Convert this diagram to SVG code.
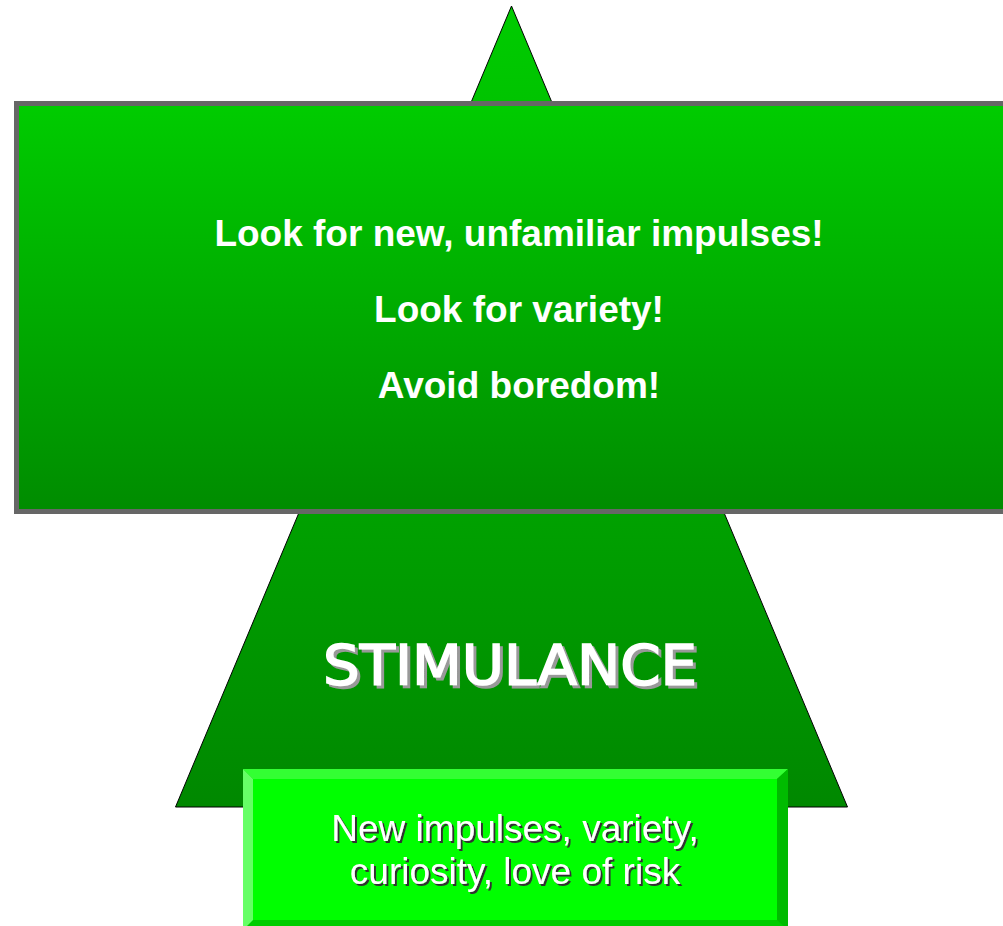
<svg xmlns="http://www.w3.org/2000/svg" width="1003" height="926" viewBox="0 0 1003 926">
<style>
.hd{font-family:"Liberation Sans",Arial,sans-serif;font-weight:bold;font-size:37px;fill:#fff;text-anchor:middle}
.big{font-family:"DejaVu Sans",Verdana,sans-serif;font-size:55px;fill:#fff;stroke:#fff;stroke-width:1.6;text-anchor:middle}
.sm{font-family:"Liberation Sans",Arial,sans-serif;font-size:37px;fill:#fff;text-anchor:middle}
</style>
<defs>
<linearGradient id="tri" x1="0" y1="6" x2="0" y2="807" gradientUnits="userSpaceOnUse">
<stop offset="0" stop-color="#00CC00"/><stop offset="1" stop-color="#008800"/>
</linearGradient>
<linearGradient id="rect" x1="0" y1="0" x2="0" y2="1">
<stop offset="0" stop-color="#00CC00"/><stop offset="1" stop-color="#008C00"/>
</linearGradient>
<filter id="shGray" x="-5%" y="-20%" width="110%" height="140%">
<feOffset in="SourceAlpha" dx="3" dy="3" result="o"/>
<feFlood flood-color="#999"/>
<feComposite in2="o" operator="in" result="s"/>
<feMerge><feMergeNode in="s"/><feMergeNode in="SourceGraphic"/></feMerge>
</filter>
<filter id="shDark" x="-5%" y="-20%" width="110%" height="140%">
<feOffset in="SourceAlpha" dx="2" dy="2" result="o"/>
<feFlood flood-color="#333"/>
<feComposite in2="o" operator="in" result="s"/>
<feMerge><feMergeNode in="s"/><feMergeNode in="SourceGraphic"/></feMerge>
</filter>
</defs>
<g id="pyramid">
<polygon points="511.5,6 847.5,807 175.5,807" fill="url(#tri)" stroke="#000" stroke-width="1"/>
</g>
<g id="top-box">
<rect x="16.5" y="103.5" width="1000" height="408" fill="url(#rect)" stroke="#666" stroke-width="5"/>
<text class="hd" x="519" y="246">Look for new, unfamiliar impulses!</text>
<text class="hd" x="519" y="322">Look for variety!</text>
<text class="hd" x="519" y="398">Avoid boredom!</text>
</g>
<g id="title">
<text class="big" x="510" y="684" textLength="374" lengthAdjust="spacingAndGlyphs" filter="url(#shGray)">STIMULANCE</text>
</g>
<g id="base-box">
<rect x="243" y="769" width="545" height="161" fill="#00CC00"/>
<polygon points="243,769 788,769 777,779 253,779" fill="#33FF33"/>
<polygon points="243,769 253,779 253,920 243,930" fill="#66FF66"/>
<polygon points="788,769 777,779 777,920 788,930" fill="#00BB00"/>
<rect x="253" y="779" width="524" height="141" fill="#00FF00"/>
<text class="sm" x="515" y="841" filter="url(#shDark)">New impulses, variety,</text>
<text class="sm" x="515" y="884" filter="url(#shDark)">curiosity, love of risk</text>
</g>
</svg>
